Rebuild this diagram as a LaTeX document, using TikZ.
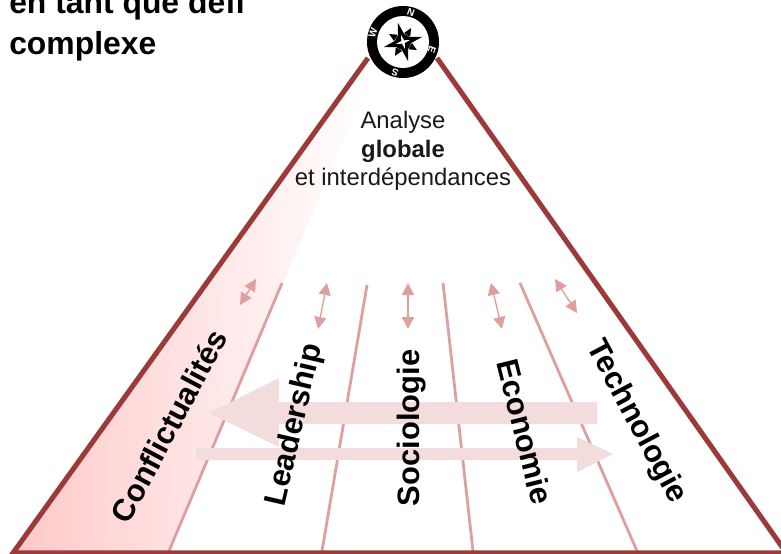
\documentclass[tikz,border=0pt]{standalone}
\usepackage{fontspec}
\setmainfont{Liberation Sans}
\usetikzlibrary{arrows.meta}
\definecolor{dark}{HTML}{9C3A3A}
\definecolor{mid}{HTML}{DF9F9F}
\definecolor{pale}{HTML}{F2DCDC}
\tikzset{
 x=0.75pt,y=-0.75pt,
 frame/.style={draw=dark,line width=3.8pt},
 column/.style={draw=mid,line width=2.1pt},
 dbl/.style={draw=mid,line width=1pt,{Triangle[width=9pt,length=9pt]}-{Triangle[width=9pt,length=9pt]}},
 lab/.style={font=\fontsize{23.2}{26}\selectfont\bfseries,inner sep=0pt,anchor=center},
 captxt/.style={font=\fontsize{17.9}{20}\selectfont,inner sep=0pt,anchor=center,text=black!90},
 head/.style={font=\fontsize{23.9}{28}\selectfont\bfseries,inner sep=0pt,anchor=west},
 dirn/.style={font=\fontsize{7.5}{8}\selectfont\bfseries,text=white,inner sep=0pt}
}
\begin{document}
\begin{tikzpicture}
\useasboundingbox (0,0) rectangle (781,553);
\clip (0,0) rectangle (781,553);
\coordinate (apexL) at (368,58);
\coordinate (apexR) at (437,58);
\coordinate (bl) at (13,553);
\coordinate (br) at (785,551);
\coordinate (be) at (781,553);
% shaded band
\shade[left color={rgb,255:red,255;green,200;blue,200},right color=white]
  (bl) -- (apexL) -- (367,85) -- (283,283) -- (169,553) -- cycle;
% columns
\coordinate (c1t) at (282,283); \coordinate (c1b) at (169,551);
\coordinate (c2t) at (367,285); \coordinate (c2b) at (322,551);
\coordinate (c3t) at (443,283); \coordinate (c3b) at (473,551);
\coordinate (c4t) at (520,283); \coordinate (c4b) at (637,551);
\draw[column] (c1t)--(c1b); \draw[column] (c2t)--(c2b);
\draw[column] (c3t)--(c3b); \draw[column] (c4t)--(c4b);
% small arrows
\coordinate (a1a) at (256,279); \coordinate (a1b) at (240,305);
\coordinate (a2a) at (327,283); \coordinate (a2b) at (318,329);
\coordinate (a3a) at (408,283); \coordinate (a3b) at (408,329);
\coordinate (a4a) at (491,283); \coordinate (a4b) at (502,329);
\coordinate (a5a) at (555,279); \coordinate (a5b) at (577,313);
\draw[dbl] (a1a)--(a1b); \draw[dbl] (a2a)--(a2b); \draw[dbl] (a3a)--(a3b);
\draw[dbl] (a4a)--(a4b); \draw[dbl] (a5a)--(a5b);
% big arrows
\fill[pale] (597,402) -- (279,402) -- (279,378) -- (209,413) -- (279,447) -- (279,424) -- (597,424) -- cycle;
\fill[pale] (196,448) -- (577,448) -- (577,437) -- (613,454) -- (577,472) -- (577,460) -- (196,460) -- cycle;
% labels
\node[lab,rotate=62] (conf) at (169,426) {Conflictualités};
\node[lab,rotate=77] (lead) at (295,425) {Leadership};
\node[lab,rotate=90] (soci) at (412,428) {Sociologie};
\node[lab,rotate=-76] (econ) at (525,432) {Economie};
\node[lab,rotate=-62] (tech) at (636,422) {Technologie};
% frame
\draw[frame] (apexL) -- (bl) -- (be);
\draw[frame] (apexR) -- (br);
% caption
\node[captxt] (c1) at (403,122) {Analyse};
\node[captxt] (c2) at (403,151) {\bfseries globale};
\node[captxt] (c3) at (403,179) {et interdépendances};
% heading
\node[head] (h1) at (9,5) {en tant que défi};
\node[head] (h2) at (9,46) {complexe};
% compass
\coordinate (cc) at (403,42);
\fill[black] (cc) circle[radius=36];
\fill[white] (cc) circle[radius=26];
\foreach \a in {75,165,255,345}{
  \fill[black] ([shift={(\a:20)}]cc) -- ([shift={(\a+30:7)}]cc) -- ([shift={(\a-30:7)}]cc) -- cycle;
  \fill[black] ([shift={(\a+45:16)}]cc) -- ([shift={(\a+45+24:9)}]cc) -- ([shift={(\a+45-24:9)}]cc) -- cycle;
}
\fill[black] (cc) circle[radius=8];
\fill[white] ([shift={(75:7)}]cc) -- ([shift={(120:2)}]cc) -- ([shift={(165:7)}]cc) -- ([shift={(210:2)}]cc) -- ([shift={(255:7)}]cc) -- ([shift={(300:2)}]cc) -- ([shift={(345:7)}]cc) -- ([shift={(30:2)}]cc) -- cycle;
\node[dirn,rotate=-20] (n) at (411,13) {N};
\node[dirn,rotate=-110] (e) at (432,50) {E};
\node[dirn,rotate=160] (s) at (395,73) {S};
\node[dirn,rotate=70] (w) at (373,33) {W};
\end{tikzpicture}
\end{document}
